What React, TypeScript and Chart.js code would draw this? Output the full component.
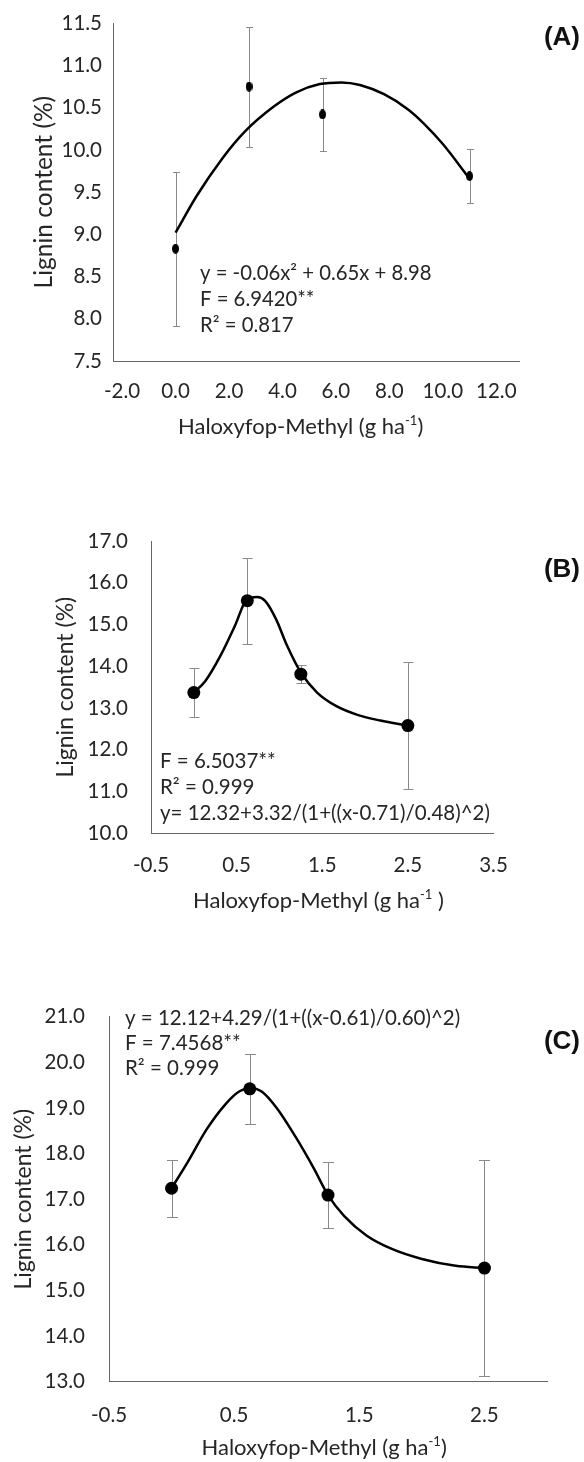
import React, { useEffect, useRef } from "react";
import { Chart, registerables } from "chart.js";

Chart.register(...registerables);

// ---------- Panel A data ----------
const dosesA = [0, 2.75, 5.5, 11];
const meansA = [8.83, 10.75, 10.42, 9.69];
const errorsA = [0.91, 0.71, 0.43, 0.32];
const fitXA = [0, 0.8, 1.75, 2.6, 3.7, 4.5, 5.4, 6.2, 6.9, 7.8, 8.7, 9.3, 10.0, 11];
const fitYA = [9.02, 9.46, 9.9, 10.22, 10.52, 10.68, 10.78, 10.8, 10.77, 10.66, 10.48, 10.31, 10.07, 9.66];
const xTicksA = [-2, 0, 2, 4, 6, 8, 10, 12];
const yTicksA = [7.5, 8, 8.5, 9, 9.5, 10, 10.5, 11, 11.5];
const notesA = ["y = -0.06x² + 0.65x + 8.98", "F = 6.9420**", "R² = 0.817"];

// ---------- Panel B data ----------
const dosesB = [0, 0.625, 1.25, 2.5];
const meansB = [13.37, 15.57, 13.81, 12.58];
const errorsB = [0.58, 1.03, 0.21, 1.52];
const fitXB = [0, 0.135, 0.31, 0.48, 0.61, 0.74, 0.83, 0.96, 1.09, 1.25, 1.44, 1.66, 1.92, 2.18, 2.5];
const fitYB = [13.37, 13.65, 14.25, 14.97, 15.57, 15.66, 15.57, 15.13, 14.49, 13.85, 13.37, 13.05, 12.83, 12.7, 12.58];
const xTicksB = [-0.5, 0.5, 1.5, 2.5, 3.5];
const yTicksB = [10, 11, 12, 13, 14, 15, 16, 17];
const notesB = ["F = 6.5037**", "R² = 0.999", "y= 12.32+3.32/(1+((x-0.71)/0.48)^2)"];

// ---------- Panel C data ----------
const dosesC = [0, 0.625, 1.25, 2.5];
const meansC = [17.24, 19.42, 17.09, 15.49];
const errorsC = [0.62, 0.77, 0.72, 2.37];
const fitXC = [0, 0.13, 0.28, 0.43, 0.54, 0.63, 0.72, 0.84, 0.99, 1.14, 1.25, 1.38, 1.56, 1.76, 2.0, 2.27, 2.5];
const fitYC = [17.24, 17.82, 18.53, 19.08, 19.36, 19.44, 19.36, 19.0, 18.37, 17.66, 17.09, 16.63, 16.2, 15.91, 15.69, 15.54, 15.49];
const xTicksC = [-0.5, 0.5, 1.5, 2.5];
const yTicksC = [13, 14, 15, 16, 17, 18, 19, 20, 21];
const notesC = ["y = 12.12+4.29/(1+((x-0.61)/0.60)^2)", "F = 7.4568**", "R² = 0.999"];

const Y_TITLE = "Lignin content (%)";
const X_TITLE_MAIN = "Haloxyfop-Methyl (g ha";

// ---------- layout / styling (not data) ----------
const W = 584;
const FONT = "Lato, 'Open Sans', sans-serif";
const TEXT = "#262626";
const AXIS = "#666666";

type Panel = {
  top: number; height: number;
  area: { left: number; right: number; top: number; bottom: number };
  xMin: number; xMax: number; yMin: number; yMax: number;
  xTicks: number[]; yTicks: number[];
  doses: number[]; means: number[]; errors: number[];
  fitX: number[]; fitY: number[];
  notes: string[]; noteX: number; noteY: number[]; noteSize: number;
  yLabelPad: number; xLabelPad: number;
  yTitleSize: number; yTitlePad: number;
  xTitleX: number; xTitleY: number; xTitleTail: string;
  label: string; labelY: number;
  marker: "ellipse" | "circle"; markerR: number; cap: number; lineW: number;
};

const panels: Panel[] = [
  {
    top: 0, height: 460,
    area: { left: 113, right: 519, top: 23, bottom: 361 },
    xMin: -2.34, xMax: 12.85, yMin: 7.5, yMax: 11.5,
    xTicks: xTicksA, yTicks: yTicksA,
    doses: dosesA, means: meansA, errors: errorsA, fitX: fitXA, fitY: fitYA,
    notes: notesA, noteX: 200, noteY: [273, 299, 325], noteSize: 20.3,
    yLabelPad: 11, xLabelPad: 18,
    yTitleSize: 24.5, yTitlePad: 29.3,
    xTitleX: 178, xTitleY: 427, xTitleTail: ")",
    label: "(A)", labelY: 38,
    marker: "ellipse", markerR: 4, cap: 7, lineW: 2.5,
  },
  {
    top: 460, height: 460,
    area: { left: 151, right: 493.5, top: 81, bottom: 373.3 },
    xMin: -0.5, xMax: 3.5, yMin: 10, yMax: 17,
    xTicks: xTicksB, yTicks: yTicksB,
    doses: dosesB, means: meansB, errors: errorsB, fitX: fitXB, fitY: fitYB,
    notes: notesB, noteX: 160, noteY: [301.7, 327.7, 353.3], noteSize: 20.5,
    yLabelPad: 23, xLabelPad: 19.7,
    yTitleSize: 23, yTitlePad: 51.5,
    xTitleX: 193, xTitleY: 441, xTitleTail: " )",
    label: "(B)", labelY: 110,
    marker: "circle", markerR: 6.5, cap: 10, lineW: 2.5,
  },
  {
    top: 920, height: 542,
    area: { left: 109, right: 547, top: 96.7, bottom: 461.7 },
    xMin: -0.5, xMax: 3.0, yMin: 13, yMax: 21,
    xTicks: xTicksC, yTicks: yTicksC,
    doses: dosesC, means: meansC, errors: errorsC, fitX: fitXC, fitY: fitYC,
    notes: notesC, noteX: 125, noteY: [98.3, 123.3, 148.3], noteSize: 20.5,
    yLabelPad: 24, xLabelPad: 21.3,
    yTitleSize: 23, yTitlePad: 10.2,
    xTitleX: 201.5, xTitleY: 528, xTitleTail: ")",
    label: "(C)", labelY: 122,
    marker: "circle", markerR: 6.5, cap: 11, lineW: 2.5,
  },
];

function ellipseMarker(w: number, h: number) {
  const c = document.createElement("canvas");
  c.width = w;
  c.height = h;
  const g = c.getContext("2d")!;
  g.fillStyle = "#000";
  g.beginPath();
  g.ellipse(w / 2, h / 2, w / 2, h / 2, 0, 0, Math.PI * 2);
  g.fill();
  return c;
}

function PanelChart({ p }: { p: Panel }) {
  const ref = useRef<HTMLCanvasElement>(null);

  useEffect(() => {
    const canvas = ref.current!;
    const extras = {
      id: "panelExtras",
      beforeDatasetsDraw(chart: any) {
        const { ctx } = chart;
        const x = chart.scales.x;
        const y = chart.scales.y;
        ctx.save();
        ctx.strokeStyle = "#8a8a8a";
        ctx.lineWidth = 1;
        p.doses.forEach((d, i) => {
          const px = Math.round(x.getPixelForValue(d)) + 0.5;
          const t = Math.round(y.getPixelForValue(p.means[i] + p.errors[i])) + 0.5;
          const b = Math.round(y.getPixelForValue(p.means[i] - p.errors[i])) + 0.5;
          ctx.beginPath();
          ctx.moveTo(px, t);
          ctx.lineTo(px, b);
          ctx.moveTo(px - p.cap / 2, t);
          ctx.lineTo(px + p.cap / 2, t);
          ctx.moveTo(px - p.cap / 2, b);
          ctx.lineTo(px + p.cap / 2, b);
          ctx.stroke();
        });
        ctx.restore();
      },
      afterDraw(chart: any) {
        const { ctx } = chart;
        ctx.save();
        ctx.fillStyle = TEXT;
        ctx.textBaseline = "middle";
        ctx.textAlign = "left";
        // regression notes
        ctx.font = `${p.noteSize}px ${FONT}`;
        p.notes.forEach((s, i) => ctx.fillText(s, p.noteX, p.noteY[i]));
        // x title with superscript
        const fs = 22;
        ctx.font = `${fs}px ${FONT}`;
        let cx = p.xTitleX;
        ctx.fillText(X_TITLE_MAIN, cx, p.xTitleY);
        cx += ctx.measureText(X_TITLE_MAIN).width;
        ctx.font = `${Math.round(fs * 0.6)}px ${FONT}`;
        ctx.fillText("-1", cx, p.xTitleY - fs * 0.3);
        cx += ctx.measureText("-1").width;
        ctx.font = `${fs}px ${FONT}`;
        ctx.fillText(p.xTitleTail, cx, p.xTitleY);
        // panel letter
        ctx.font = `bold 26px 'Liberation Sans', Arial, sans-serif`;
        ctx.fillStyle = "#111";
        ctx.textAlign = "right";
        ctx.fillText(p.label, 580, p.labelY);
        ctx.restore();
      },
    };

    const pointStyle = p.marker === "ellipse" ? ellipseMarker(7, 10) : "circle";

    const chart = new Chart(canvas, {
      type: "scatter",
      data: {
        datasets: [
          {
            label: "mean",
            data: p.doses.map((d, i) => ({ x: d, y: p.means[i] })),
            pointStyle: pointStyle as any,
            pointRadius: p.markerR,
            pointBackgroundColor: "#000",
            pointBorderColor: "#000",
            pointBorderWidth: 0,
            showLine: false,
          },
          {
            label: "fit",
            data: p.fitX.map((d, i) => ({ x: d, y: p.fitY[i] })),
            showLine: true,
            borderColor: "#000",
            borderWidth: p.lineW,
            pointRadius: 0,
            cubicInterpolationMode: "monotone",
            fill: false,
          } as any,
        ],
      },
      options: {
        responsive: false,
        animation: false,
        events: [],
        layout: {
          padding: { left: 0, top: p.area.top, right: W - p.area.right, bottom: 0 },
        },
        plugins: {
          legend: { display: false },
          tooltip: { enabled: false },
        },
        scales: {
          x: {
            type: "linear",
            min: p.xMin,
            max: p.xMax,
            afterBuildTicks: (s: any) => {
              s.ticks = p.xTicks.map((v) => ({ value: v }));
            },
            afterFit: (s: any) => {
              s.height = p.height - p.area.bottom;
            },
            ticks: {
              autoSkip: false,
              maxRotation: 0,
              padding: p.xLabelPad,
              color: TEXT,
              font: { family: FONT, size: 20.5 },
              callback: (v: any) => Number(v).toFixed(1),
            },
            grid: { display: false, drawTicks: false },
            border: { display: true, color: AXIS, width: 1 },
          },
          y: {
            type: "linear",
            min: p.yMin,
            max: p.yMax,
            afterBuildTicks: (s: any) => {
              s.ticks = p.yTicks.map((v) => ({ value: v }));
            },
            afterFit: (s: any) => {
              s.width = p.area.left;
            },
            ticks: {
              padding: p.yLabelPad,
              color: TEXT,
              font: { family: FONT, size: 20.5 },
              callback: (v: any) => Number(v).toFixed(1),
            },
            grid: { display: false, drawTicks: false },
            border: { display: true, color: AXIS, width: 1 },
            title: {
              display: true,
              text: Y_TITLE,
              color: TEXT,
              font: { family: FONT, size: p.yTitleSize },
              padding: { top: p.yTitlePad, bottom: 0 },
            },
          },
        },
      },
      plugins: [extras as any],
    });
    return () => chart.destroy();
  }, [p]);

  return (
    <div style={{ position: "absolute", left: 0, top: p.top, width: W, height: p.height }}>
      <canvas ref={ref} width={W} height={p.height} style={{ display: "block" }} />
    </div>
  );
}

export default function App() {
  return (
    <div style={{ position: "absolute", left: 0, top: 0, width: W, height: 1462, background: "#fff" }}>
      {panels.map((p) => (
        <PanelChart key={p.label} p={p} />
      ))}
    </div>
  );
}
